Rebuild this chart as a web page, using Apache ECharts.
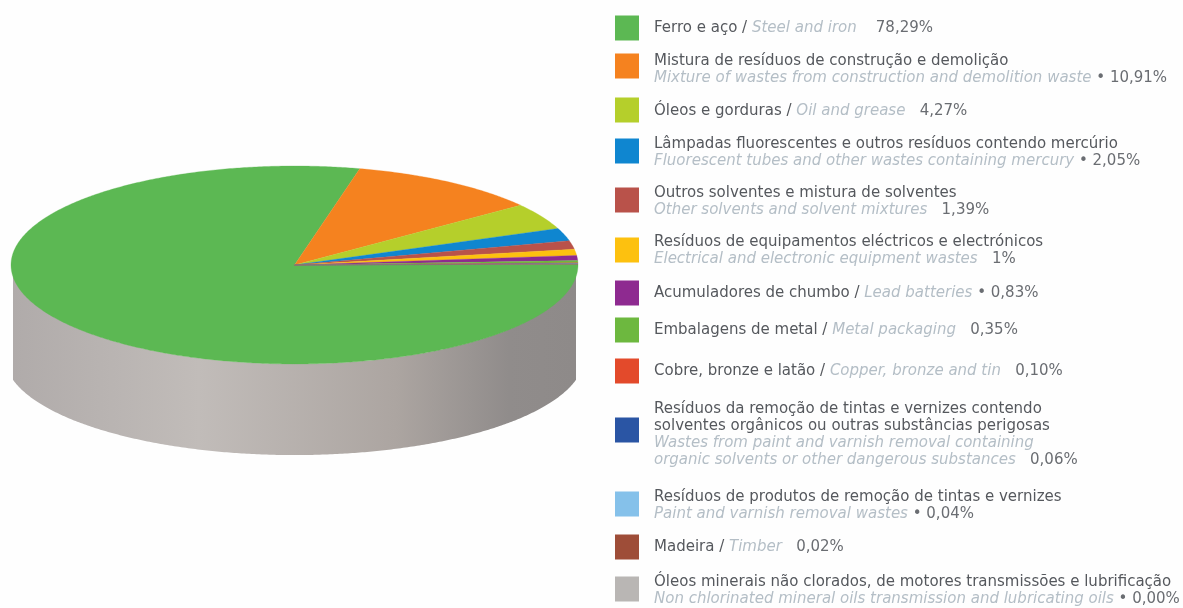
<!DOCTYPE html>
<html>
<head>
<meta charset="utf-8">
<style>
  html, body { margin: 0; padding: 0; background: #fefefe; }
  #chart { width: 1183px; height: 608px; }
</style>
<script src="https://cdn.jsdelivr.net/npm/echarts@6/dist/echarts.min.js"></script>
</head>
<body>
<div id="chart"></div>
<script>
// Waste shares, percent, in slice order
const shares = [78.29, 10.91, 4.27, 2.05, 1.39, 1, 0.83, 0.35, 0.10, 0.06, 0.04, 0.02, 0.00];
const shareLabels = ['78,29%', '10,91%', '4,27%', '2,05%', '1,39%', '1%', '0,83%', '0,35%', '0,10%', '0,06%', '0,04%', '0,02%', '0,00%'];
// Text between the English name and the value
const separators = ['    ', ' • ', '   ', ' • ', '   ', '   ', ' • ', '   ', '   ', '   ', ' • ', '   ', ' • '];

const namesPt = [
  ['Ferro e aço / '],
  ['Mistura de resíduos de construção e demolição'],
  ['Óleos e gorduras / '],
  ['Lâmpadas fluorescentes e outros resíduos contendo mercúrio'],
  ['Outros solventes e mistura de solventes'],
  ['Resíduos de equipamentos eléctricos e electrónicos'],
  ['Acumuladores de chumbo / '],
  ['Embalagens de metal / '],
  ['Cobre, bronze e latão / '],
  ['Resíduos da remoção de tintas e vernizes contendo', 'solventes orgânicos ou outras substâncias perigosas'],
  ['Resíduos de produtos de remoção de tintas e vernizes'],
  ['Madeira / '],
  ['Óleos minerais não clorados, de motores transmissões e lubrificação']
];
const namesEn = [
  ['Steel and iron'],
  ['Mixture of wastes from construction and demolition waste'],
  ['Oil and grease'],
  ['Fluorescent tubes and other wastes containing mercury'],
  ['Other solvents and solvent mixtures'],
  ['Electrical and electronic equipment wastes'],
  ['Lead batteries'],
  ['Metal packaging'],
  ['Copper, bronze and tin'],
  ['Wastes from paint and varnish removal containing', 'organic solvents or other dangerous substances'],
  ['Paint and varnish removal wastes'],
  ['Timber'],
  ['Non chlorinated mineral oils transmission and lubricating oils']
];

const colors = ['#5cb853', '#f5821f', '#b5cf2b', '#0f86d0', '#b9524a', '#fdc10f', '#8e2a90',
  '#6db83f', '#e34a2b', '#2a55a4', '#85c1ea', '#9e4d38', '#b9b6b4'];

// Vertical centres of the key swatches and of their text blocks
const swatchY = [28, 66, 110, 151, 200, 250, 293, 330, 371, 430, 504, 547, 589];
const textY = [28, 70, 111, 153, 202, 251, 293, 330, 371, 435, 506, 547, 591];

// Wall height of the drum, in units of the ellipse's vertical radius
const depth = 0.92;
// Half width of the wall, and the slightly wider sweep of its lower rim
const wallHalfWidth = 0.993;
const rimHalfWidth = 1.023;
// Clockwise angle from the top where the first slice ends
const firstSliceEnd = 13.3;

const total = shares.reduce((a, b) => a + b, 0);
let cursor = firstSliceEnd - shares[0] / total * 360;
const sliceData = shares.map((v, i) => {
  const start = cursor;
  cursor += v / total * 360;
  return [start, cursor, i];
});

function arcPoints(api, from, to, yOffset, xScale) {
  const pts = [];
  const steps = Math.max(1, Math.ceil(Math.abs(to - from) / 0.5));
  for (let k = 0; k <= steps; k++) {
    const a = (from + (to - from) * k / steps) * Math.PI / 180;
    const x = Math.max(-wallHalfWidth, Math.min(wallHalfWidth, Math.sin(a) * xScale));
    pts.push(api.coord([x, Math.cos(a) + yOffset]));
  }
  return pts;
}

function renderSlice(params, api) {
  const start = api.value(0), end = api.value(1), idx = api.value(2);
  if (end - start <= 0) return null;
  const pts = [];
  const steps = Math.max(1, Math.ceil((end - start) / 0.5));
  pts.push(api.coord([0, 0]));
  for (let k = 0; k <= steps; k++) {
    const a = (start + (end - start) * k / steps) * Math.PI / 180;
    pts.push(api.coord([Math.sin(a), Math.cos(a)]));
  }
  const color = colors[idx];
  return {
    type: 'polygon',
    shape: { points: pts },
    style: { fill: color, stroke: color, lineWidth: 0.3 }
  };
}

function renderWall(params, api) {
  const d = api.value(0);
  const pts = arcPoints(api, 90, 270, 0, wallHalfWidth).concat(arcPoints(api, 270, 90, -d, rimHalfWidth));
  return {
    type: 'polygon',
    shape: { points: pts },
    style: {
      fill: new echarts.graphic.LinearGradient(0, 0, 1, 0, [
        { offset: 0, color: '#b0abaa' },
        { offset: 0.33, color: '#c1bcb9' },
        { offset: 0.68, color: '#aca5a1' },
        { offset: 0.88, color: '#908c8b' },
        { offset: 1, color: '#8e8a89' }
      ])
    }
  };
}

// Portuguese lines first, then English; the last line carries the value
function keyText(i) {
  const pt = namesPt[i], en = namesEn[i];
  const tail = '{val|' + separators[i] + shareLabels[i] + '}';
  if (pt[0].endsWith(' / ')) return '{pt|' + pt[0] + '}{en|' + en[0] + '}' + tail;
  const lines = pt.map(s => '{pt|' + s + '}').concat(en.map(s => '{en|' + s + '}'));
  lines[lines.length - 1] += tail;
  return lines.join('\n');
}

const baseFont = '"DejaVu Sans", sans-serif';
const keyElements = [];
shares.forEach((v, i) => {
  keyElements.push({
    type: 'rect', left: 615, top: swatchY[i] - 12.5,
    shape: { width: 24, height: 25 },
    style: { fill: colors[i] }
  });
  keyElements.push({
    type: 'text', x: 654, y: textY[i],
    style: {
      text: keyText(i), verticalAlign: 'middle', align: 'left',
      rich: {
        pt: { fontFamily: baseFont, fontSize: 15, fill: '#55585d', lineHeight: 17 },
        en: { fontFamily: baseFont, fontSize: 15, fontStyle: 'italic', fill: '#b4bec6', lineHeight: 17 },
        val: { fontFamily: baseFont, fontSize: 15, fill: '#6a6d72', lineHeight: 17 }
      }
    }
  });
});

const chart = echarts.init(document.getElementById('chart'), null, { renderer: 'canvas' });
chart.setOption({
  backgroundColor: '#fefefe',
  animation: false,
  grid: { left: 11, top: 166, width: 567, height: 198 * (1 + depth / 2) },
  xAxis: { type: 'value', min: -1, max: 1, show: false },
  yAxis: { type: 'value', min: -1 - depth, max: 1, show: false },
  series: [
    { type: 'custom', name: 'wall', renderItem: renderWall, data: [[depth]], silent: true },
    { type: 'custom', name: 'slices', renderItem: renderSlice, data: sliceData }
  ],
  graphic: { elements: keyElements }
});
</script>
</body>
</html>
